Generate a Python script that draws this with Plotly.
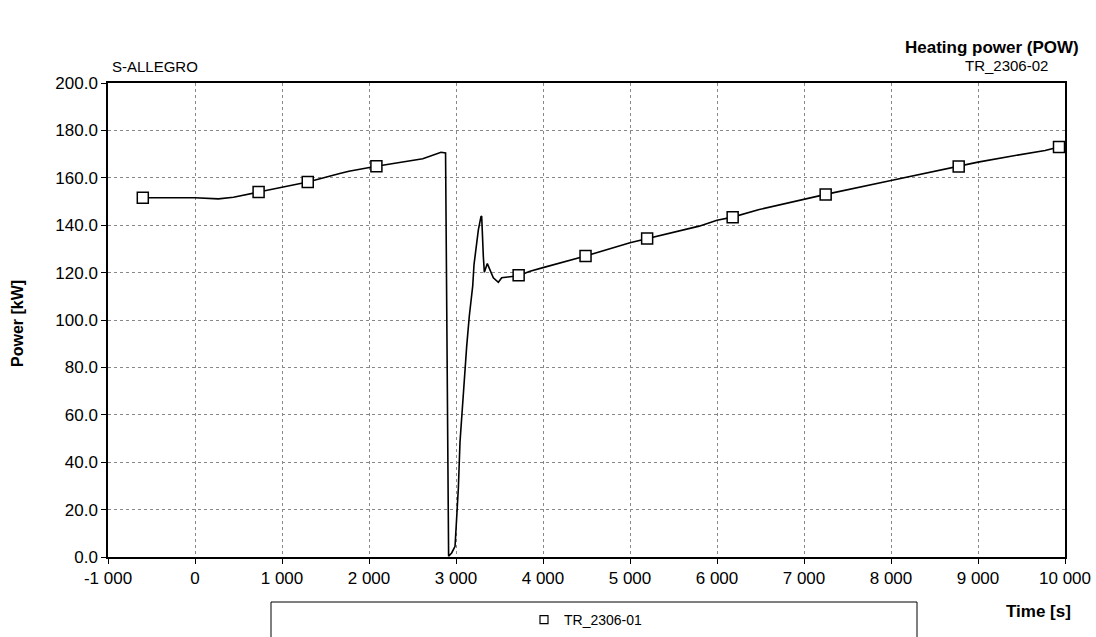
import plotly.graph_objects as go

# ---- data ----
time_s = [-600, 0, 269, 442, 731, 1296, 1664, 1769, 2084, 2618, 2828, 2880,
          2915, 2950, 2989, 3008, 3027, 3046, 3065, 3084, 3103, 3123, 3153, 3169,
          3192, 3207, 3238, 3257, 3287, 3295, 3314, 3326, 3360, 3429, 3487, 3525,
          3716, 3851, 4000, 4489, 5000, 5197, 5795, 6000, 6180, 6486, 7000, 7249,
          8000, 8778, 9000, 9427, 9771, 9931, 9981]
power_kw = [151.6, 151.6, 151.1, 151.8, 154.0, 158.2, 161.8, 162.8, 164.9, 168.0, 170.8, 170.5,
            0.3, 1.7, 4.5, 15.0, 29.0, 48.5, 59.7, 70.9, 82.0, 89.0, 101.7, 106.6,
            114.3, 123.4, 132.6, 138.0, 143.6, 143.9, 126.9, 120.1, 123.8, 117.8, 115.9, 117.8,
            118.7, 120.6, 122.1, 127.0, 132.6, 134.4, 139.6, 142.1, 143.4, 146.6, 150.9, 153.0,
            158.9, 164.9, 166.6, 169.4, 171.5, 173.0, 174.1]

marker_time = [-600, 731, 1296, 2085, 3720, 4489, 5197, 6180, 7249, 8778, 9931]
marker_power = [151.6, 154.0, 158.2, 164.9, 118.9, 127.0, 134.4, 143.4, 153.0, 164.8, 173.0]

x_tickvals = [-1000, 0, 1000, 2000, 3000, 4000, 5000, 6000, 7000, 8000, 9000, 10000]
x_ticktext = ["-1 000", "0", "1 000", "2 000", "3 000", "4 000", "5 000",
              "6 000", "7 000", "8 000", "9 000", "10 000"]
y_tickvals = [0, 20, 40, 60, 80, 100, 120, 140, 160, 180, 200]
y_ticktext = ["0.0", "20.0", "40.0", "60.0", "80.0", "100.0", "120.0",
              "140.0", "160.0", "180.0", "200.0"]

series_name = "TR_2306-01"
FONT = "Arial, Liberation Sans, sans-serif"

L, R, T, B = 108, 1065, 83, 557
PW, PH = R - L, B - T


def px(xp):
    return (xp - L) / PW


def py(yp):
    return (B - yp) / PH


fig = go.Figure()
fig.add_trace(go.Scatter(x=time_s, y=power_kw, mode="lines",
                         line=dict(color="black", width=1.6),
                         showlegend=False, hoverinfo="skip"))
fig.add_trace(go.Scatter(x=marker_time, y=marker_power, mode="markers",
                         name=series_name, showlegend=False,
                         marker=dict(symbol="square", size=11, color="white",
                                     line=dict(color="black", width=1.5))))
# legend-only entry with the small square symbol
fig.add_trace(go.Scatter(x=[None], y=[None], mode="markers", name=series_name,
                         marker=dict(symbol="square", size=8, color="white",
                                     line=dict(color="black", width=1.2))))

axis_common = dict(showline=True, linecolor="black", linewidth=1.5, mirror=True,
                   ticks="outside", ticklen=5, tickcolor="black",
                   showgrid=True, gridcolor="#888888", griddash="dot", gridwidth=1,
                   zeroline=False, tickfont=dict(family=FONT, size=17, color="black"))

fig.update_xaxes(range=[-1000, 10000], tickvals=x_tickvals, ticktext=x_ticktext,
                 **axis_common)
fig.update_yaxes(range=[0, 200], tickvals=y_tickvals, ticktext=y_ticktext,
                 **axis_common)

fig.update_layout(
    width=1096, height=637,
    margin=dict(l=L, r=1096 - R, t=T, b=637 - B, autoexpand=False),
    paper_bgcolor="white", plot_bgcolor="white",
    font=dict(family=FONT, color="black"),
    showlegend=True,
    legend=dict(orientation="h", x=px(586), xanchor="center", y=py(620), yanchor="middle",
                bgcolor="rgba(0,0,0,0)", borderwidth=0, itemwidth=30,
                font=dict(family=FONT, size=14, color="black")),
    shapes=[dict(type="rect", xref="paper", yref="paper",
                 x0=px(271), x1=px(917), y0=py(645), y1=py(602),
                 line=dict(color="black", width=1), fillcolor="rgba(0,0,0,0)")],
    annotations=[
        dict(text="<b>Heating power (POW)</b>", xref="paper", yref="paper",
             x=px(1081), y=py(48), xanchor="right", yanchor="middle",
             showarrow=False, font=dict(family=FONT, size=17, color="black")),
        dict(text="S-ALLEGRO", xref="paper", yref="paper",
             x=px(110), y=py(66), xanchor="left", yanchor="middle",
             showarrow=False, font=dict(family=FONT, size=15, color="black")),
        dict(text="TR_2306-02", xref="paper", yref="paper",
             x=px(1050), y=py(65), xanchor="right", yanchor="middle",
             showarrow=False, font=dict(family=FONT, size=15, color="black")),
        dict(text="<b>Time [s]</b>", xref="paper", yref="paper",
             x=px(1073), y=py(611), xanchor="right", yanchor="middle",
             showarrow=False, font=dict(family=FONT, size=17, color="black")),
        dict(text="<b>Power [kW]</b>", xref="paper", yref="paper",
             x=px(17), y=py(324), xanchor="center", yanchor="middle", textangle=-90,
             showarrow=False, font=dict(family=FONT, size=16, color="black")),
    ],
)

fig.write_html("out.html")
